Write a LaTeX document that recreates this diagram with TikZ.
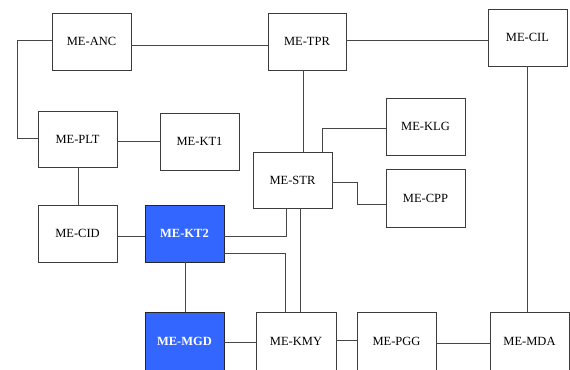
\documentclass[tikz,border=0pt]{standalone}
\usepackage{fontspec}
\setmainfont{Liberation Serif}
\usetikzlibrary{calc}
\definecolor{boxblue}{RGB}{51,102,255}
\definecolor{edgegray}{RGB}{60,60,60}
\definecolor{linegray}{RGB}{70,70,70}
\tikzset{
  mod/.style={draw=edgegray, line width=0.9bp, minimum width=79bp, minimum height=57bp,
    inner sep=0pt, outer sep=0pt, fill=white, font=\fontsize{12.5bp}{14bp}\selectfont},
  modhl/.style={mod, fill=boxblue, draw=black!85, text=white, font=\fontsize{12.5bp}{14bp}\selectfont\bfseries},
  modlow/.style={minimum height=59bp},
  conn/.style={draw=linegray, line width=0.9bp}
}
\begin{document}
\begin{tikzpicture}[x=1bp,y=-1bp]
\useasboundingbox (0,0) rectangle (570,369);
\clip (0,0) rectangle (570,369);
\fill[white] (0,0) rectangle (570,369);
% nodes
\node[mod] (ANC) at (91.5,41.5) {ME-ANC};
\node[mod, minimum width=78bp] (TPR) at (307,41.5) {ME-TPR};
\node[mod] (CIL) at (527.5,37.5) {ME-CIL};
\node[mod, minimum height=56bp] (PLT) at (77.5,139) {ME-PLT};
\node[mod] (KT1) at (199.5,141.5) {ME-KT1};
\node[mod, minimum height=56bp] (STR) at (292.5,180) {ME-STR};
\node[mod] (KLG) at (425.5,126.5) {ME-KLG};
\node[mod, minimum height=58bp] (CPP) at (425.5,198) {ME-CPP};
\node[mod] (CID) at (77.5,233.5) {ME-CID};
\node[modhl] (KT2) at (184.5,233.5) {ME-KT2};
\node[modhl, modlow] (MGD) at (184.5,341.5) {ME-MGD};
\node[mod, modlow, minimum width=80bp] (KMY) at (296,341.5) {ME-KMY};
\node[mod, modlow] (PGG) at (396.5,341.5) {ME-PGG};
\node[mod, modlow] (MDA) at (529.5,341.5) {ME-MDA};
% connectors
\draw[conn] ($(ANC.west)+(0,-1.5)$) -- ++(-35,0) |- ($(PLT.west)+(0,-1)$);
\draw[conn] ($(ANC.east)+(0,3.5)$) -- ($(TPR.west)+(0,3.5)$);
\draw[conn] ($(TPR.east)+(0,-1.5)$) coordinate (t1) -- (t1 -| CIL.west);
\draw[conn] ($(TPR.south)+(-4,0)$) coordinate (t2) -- (t2 |- STR.north);
\draw[conn] ($(KLG.west)+(0,1.5)$) -| ($(STR.north)+(29.5,0)$);
\draw[conn] ($(STR.east)+(0,2)$) -- ++(25,0) |- ($(CPP.west)+(0,6)$);
\draw[conn] (CIL.south) -- (CIL.south |- MDA.north);
\draw[conn] ($(PLT.east)+(0,2)$) coordinate (p1) -- (p1 -| KT1.west);
\draw[conn] ($(PLT.south)+(0.5,0)$) coordinate (p2) -- (p2 |- CID.north);
\draw[conn] ($(CID.east)+(0,2.5)$) coordinate (c1) -- (c1 -| KT2.west);
\draw[conn] ($(KT2.east)+(0,2.5)$) -| ($(STR.south)+(-6.5,0)$);
\draw[conn] ($(KT2.east)+(0,19.5)$) -| ($(KMY.north)+(-10.5,0)$);
\draw[conn] ($(STR.south)+(7.5,0)$) coordinate (s1) -- (s1 |- KMY.north);
\draw[conn] ($(KT2.south)+(0.5,0)$) coordinate (k1) -- (k1 |- MGD.north);
\draw[conn] ($(MGD.east)+(0,0.5)$) coordinate (m1) -- (m1 -| KMY.west);
\draw[conn] ($(KMY.east)+(0,-1.5)$) coordinate (m2) -- (m2 -| PGG.west);
\draw[conn] ($(PGG.east)+(0,1.5)$) coordinate (m3) -- (m3 -| MDA.west);
\end{tikzpicture}
\end{document}
